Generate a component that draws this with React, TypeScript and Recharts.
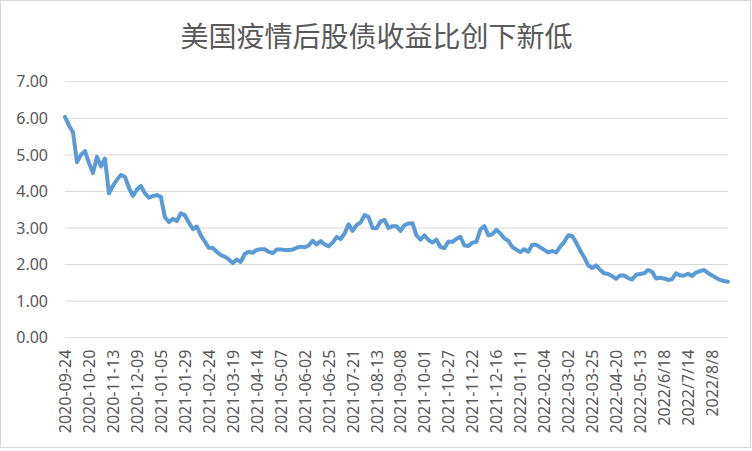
import React from 'react';
import { LineChart, Line, XAxis, YAxis, CartesianGrid } from 'recharts';

const TITLE = '美国疫情后股债收益比创下新低';

const TICK_LABELS = [
  '2020-09-24', '2020-10-20', '2020-11-13', '2020-12-09', '2021-01-05', '2021-01-29',
  '2021-02-24', '2021-03-19', '2021-04-14', '2021-05-07', '2021-06-02', '2021-06-25',
  '2021-07-21', '2021-08-13', '2021-09-08', '2021-10-01', '2021-10-27', '2021-11-22',
  '2021-12-16', '2022-01-11', '2022-02-04', '2022-03-02', '2022-03-25', '2022-04-20',
  '2022-05-13', '2022/6/18', '2022/7/14', '2022/8/8',
];

const LABEL_STEP = 6;

const RATIO = [
  6.04, 5.8, 5.62, 4.8, 5.0, 5.1, 4.78, 4.5, 4.95, 4.68,
  4.9, 3.95, 4.15, 4.32, 4.45, 4.4, 4.1, 3.88, 4.05, 4.15,
  3.95, 3.83, 3.87, 3.9, 3.85, 3.3, 3.16, 3.25, 3.19, 3.4,
  3.35, 3.15, 2.97, 3.04, 2.8, 2.63, 2.46, 2.45, 2.35, 2.26,
  2.22, 2.14, 2.04, 2.14, 2.07, 2.29, 2.35, 2.32, 2.4, 2.42,
  2.42, 2.35, 2.31, 2.41, 2.41, 2.4, 2.4, 2.41, 2.46, 2.49,
  2.47, 2.52, 2.65, 2.55, 2.64, 2.55, 2.5, 2.6, 2.75, 2.7,
  2.85, 3.1, 2.92, 3.08, 3.15, 3.35, 3.3, 3.0, 2.99, 3.18,
  3.22, 3.0, 3.05, 3.05, 2.92, 3.08, 3.12, 3.13, 2.8, 2.68,
  2.8, 2.67, 2.6, 2.68, 2.48, 2.45, 2.63, 2.62, 2.7, 2.76,
  2.52, 2.51, 2.6, 2.62, 2.96, 3.05, 2.8, 2.83, 2.95, 2.85,
  2.71, 2.65, 2.48, 2.41, 2.34, 2.42, 2.35, 2.54, 2.54, 2.47,
  2.4, 2.33, 2.37, 2.33, 2.49, 2.62, 2.8, 2.78, 2.6, 2.38,
  2.2, 1.98, 1.9, 1.98, 1.85, 1.76, 1.74, 1.68, 1.61, 1.7,
  1.7, 1.63, 1.59, 1.72, 1.74, 1.76, 1.85, 1.8, 1.62, 1.64,
  1.62, 1.58, 1.6, 1.76, 1.7, 1.7, 1.75, 1.69, 1.78, 1.82,
  1.85, 1.77, 1.7, 1.64, 1.58, 1.55, 1.53,
];

const Y_TICKS = [0, 1, 2, 3, 4, 5, 6, 7];

const data = RATIO.map((v, i) => ({ i, v }));
const xTicks = TICK_LABELS.map((_, k) => k * LABEL_STEP);

const AXIS_FONT = '"Noto Sans", "DejaVu Sans", sans-serif';

const XTick = (props: any) => {
  const { x, y, payload } = props;
  const label = TICK_LABELS[Math.round(payload.value / LABEL_STEP)];
  const yy = y + 4;
  return (
    <text
      x={x}
      y={yy}
      transform={`rotate(-90 ${x} ${yy})`}
      textAnchor="end"
      dominantBaseline="central"
      fill="#595959"
      fontSize={16}
      fontFamily={AXIS_FONT}
    >
      {label}
    </text>
  );
};

export default function App() {
  return (
    <div
      style={{
        position: 'absolute',
        left: 0,
        top: 0,
        width: 751,
        height: 448,
        boxSizing: 'border-box',
        border: '1px solid #d9d9d9',
        background: '#ffffff',
      }}
    >
      <div
        style={{
          position: 'absolute',
          left: 0,
          top: 20,
          width: 751,
          textAlign: 'center',
          fontSize: 28,
          lineHeight: '28px',
          color: '#595959',
          fontFamily: '"Noto Sans CJK SC", sans-serif',
        }}
      >
        {TITLE}
      </div>
      <LineChart
        width={749}
        height={446}
        data={data}
        margin={{ top: 80.7, right: 22, left: 14, bottom: 9.3 }}
      >
        <CartesianGrid vertical={false} stroke="#d9d9d9" strokeWidth={1} />
        <XAxis
          type="number"
          dataKey="i"
          domain={[0, RATIO.length - 1]}
          ticks={xTicks}
          interval={0}
          tick={<XTick />}
          axisLine={false}
          tickLine={false}
          height={100}
        />
        <YAxis
          domain={[0, 7]}
          ticks={Y_TICKS}
          interval={0}
          tickFormatter={(v: number) => v.toFixed(2)}
          axisLine={false}
          tickLine={false}
          tickMargin={11}
          width={50}
          tick={{ fill: '#595959', fontSize: 16, fontFamily: AXIS_FONT }}
        />
        <Line
          type="linear"
          dataKey="v"
          stroke="#5B9BD5"
          strokeWidth={4}
          strokeLinejoin="round"
          strokeLinecap="round"
          dot={false}
          activeDot={false}
          isAnimationActive={false}
        />
      </LineChart>
    </div>
  );
}
